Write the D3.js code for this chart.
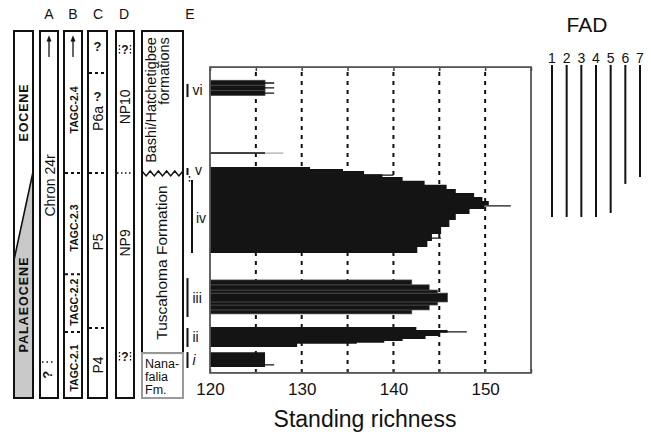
<!DOCTYPE html>
<html lang="en">
<head>
<meta charset="UTF-8">
<title>Standing richness</title>
<script src="https://d3js.org/d3.v7.min.js"></script>
<style>
  body { margin: 0; background: #fff; }
  text { font-family: "Liberation Sans", Arial, Helvetica, sans-serif; fill: #111; }
</style>
</head>
<body>
<svg width="651" height="435"></svg>
<script>
// richness bins per interval: [base m, top m, standing richness]
const binsI = [[10.1, 15.0, 126]];
const binsII = [
  [16.7, 17.7, 129.5], [17.7, 18.1, 136], [18.1, 18.6, 139], [18.6, 19.3, 141],
  [19.3, 20.3, 143.5], [20.3, 21.3, 145], [21.3, 22.2, 145.9], [22.2, 23.2, 142.5]
];
const binsIII = [
  [27.5, 28.8, 142], [28.8, 30.4, 143.9], [30.4, 31.4, 144.8], [31.4, 34.3, 145.9],
  [34.3, 35.3, 144.8], [35.3, 37.0, 143.9], [37.0, 38.6, 142]
];
const binsIV = [
  [47.4, 49.4, 142.6], [49.4, 51.3, 143.7], [51.3, 53.6, 144.2], [53.6, 55.9, 145.2],
  [55.9, 58.2, 146.1], [58.2, 60.2, 146.8], [60.2, 61.8, 148.3], [61.8, 63.1, 149.9],
  [63.1, 64.4, 150.4], [64.4, 65.7, 149.7], [65.7, 67.0, 148.8], [67.0, 68.3, 146.8],
  [68.3, 69.7, 145.8], [69.7, 71.0, 143.4], [71.0, 72.3, 141], [72.3, 73.2, 138.8],
  [73.2, 74.2, 136.8], [74.2, 74.9, 134.5], [74.9, 75.5, 130.9]
];
const binsVI = [[98.9, 100.6, 126], [100.6, 102.3, 126], [102.3, 103.9, 126]];

// single-sample spikes: [level m, richness]
const spikes = [[10.8, 127], [21.6, 148], [52.3, 145.2], [62.8, 152.8], [72.9, 140],
  [73.6, 135.9], [99.7, 127], [101.4, 127], [103.0, 127]];
const isolated = [[80.1, 126, 128]]; // level, solid end, faint end

// intervals in column E
const intervals = [
  {name: "i", lo: 9.8, hi: 15.0}, {name: "ii", lo: 16.7, hi: 22.9},
  {name: "iii", lo: 26.5, hi: 39.2}, {name: "iv", lo: 47.4, hi: 71.3},
  {name: "v", lo: 72.9, hi: 75.2}, {name: "vi", lo: 98.4, hi: 102.7}
];

// FAD ranges: base m (all topping out at 108.9)
const fadNames = ["1", "2", "3", "4", "5", "6", "7"];
const fadBase = [59.2, 59.2, 59.2, 59.2, 60.5, 70.0, 72.3];
const fadTop = 108.9;

const richTicks = [120, 130, 140, 150];
const gridVals = [125, 130, 135, 140, 145, 150];

const svg = d3.select("svg");
const y = d3.scaleLinear().domain([0, 120]).range([398, 31]);
const x = d3.scaleLinear().domain([120, 155]).range([210, 531]);
const plotLo = 8.2, plotHi = 108.2;

// ---------- stratigraphic columns ----------
const cols = svg.append("g");
function box(x0, x1, lo, hi, stroke) {
  cols.append("rect").attr("x", x0).attr("y", y(hi)).attr("width", x1 - x0)
    .attr("height", y(lo) - y(hi)).attr("fill", "none")
    .attr("stroke", stroke || "#111").attr("stroke-width", 2);
}
function vtext(t, cx, m, size, bold, anchor) {
  return cols.append("text").attr("transform", `translate(${cx},${y(m)}) rotate(-90)`)
    .attr("text-anchor", anchor || "middle").attr("dominant-baseline", "central")
    .attr("font-size", size).attr("font-weight", bold ? "bold" : "normal").text(t);
}
function hdash(x0, x1, m, dash, w) {
  cols.append("line").attr("x1", x0).attr("x2", x1).attr("y1", y(m)).attr("y2", y(m))
    .attr("stroke", "#111").attr("stroke-width", w || 2).attr("stroke-dasharray", dash || "4,3");
}
function arrow(cx) {
  cols.append("line").attr("x1", cx).attr("x2", cx).attr("y1", y(111.5)).attr("y2", y(117.6))
    .attr("stroke", "#111").attr("stroke-width", 1.3);
  cols.append("path").attr("d", `M${cx - 2.5},${y(116.6)} L${cx},${y(118.6)} L${cx + 2.5},${y(116.6)} Z`)
    .attr("fill", "#111");
}

// epoch column
cols.append("path")
  .attr("d", `M33,${y(73.9)} L33,${y(0)} L14,${y(0)} L14,${y(45.1)} Z`).attr("fill", "#c9c9c9");
cols.append("line").attr("x1", 33).attr("y1", y(73.9)).attr("x2", 14).attr("y2", y(45.1))
  .attr("stroke", "#111").attr("stroke-width", 1.6);
box(14, 33, 0, 120);
vtext("EOCENE", 24, 93.2, 12.5, true).attr("textLength", 57);
vtext("PALAEOCENE", 24, 30.4, 12.5, true).attr("textLength", 95);

// A
box(40, 58, 0, 120);
arrow(49);
vtext("Chron 24r", 49.5, 69.5, 14, false);
hdash(42, 54, 11.8, "1.5,3", 1.5);
vtext("?", 47, 7.6, 13, true);

// B
box(64, 82, 0, 120);
arrow(73);
hdash(65, 81, 73.6, "3,3");
hdash(65, 81, 40.5, "3,3");
hdash(65, 81, 21.6, "3,3");
vtext("TAGC-2.4", 73.5, 94.2, 10.5, true);
vtext("TAGC-2.3", 73.5, 55.6, 10.5, true);
vtext("TAGC-2.2", 73.5, 31.3, 10.5, true);
vtext("TAGC-2.1", 73.5, 9.8, 10.5, true);

// C
box(88, 107, 0, 120);
hdash(89, 106, 106.3, "3,3");
hdash(89, 106, 73.6, "3,3");
hdash(89, 106, 22.9, "3,3");
[114.8, 98.6].forEach(m => {
  cols.append("text").attr("x", 97.5).attr("y", y(m)).attr("text-anchor", "middle")
    .attr("dominant-baseline", "central").attr("font-size", 13).attr("font-weight", "bold").text("?");
});
vtext("P6a", 98, 91.4, 14, false);
vtext("P5", 98, 51.0, 14, false);
vtext("P4", 98, 10.8, 14, false);

// D
box(116, 134, 0, 120);
hdash(117, 133, 73.6, "1.5,2.5", 1.5);
[113.8, 13.4].forEach(m => {
  cols.append("text").attr("x", 125).attr("y", y(m)).attr("text-anchor", "middle")
    .attr("dominant-baseline", "central").attr("font-size", 12).attr("font-weight", "bold").text("?");
  [119.5, 130.5].forEach(xx => cols.append("line").attr("x1", xx).attr("x2", xx)
    .attr("y1", y(m) - 5).attr("y2", y(m) + 4).attr("stroke", "#111")
    .attr("stroke-width", 1.3).attr("stroke-dasharray", "1.5,2"));
});
vtext("NP10", 125, 95.2, 14, false);
vtext("NP9", 125, 50.7, 14, false);

// E formations
box(142, 183, 14.7, 120);
box(142, 183, 0, 14.7, "#9a9a9a");
const zig = d3.range(0, 11).map(i => [142 + i * 4.1, y(73.6) + (i % 2 ? 3 : -2)]);
cols.append("path").attr("d", d3.line()(zig)).attr("fill", "none")
  .attr("stroke", "#111").attr("stroke-width", 1.5);
vtext("Bashi/Hatchetigbee", 151, 118.0, 14.5, false, "end");
vtext("formations", 164, 118.0, 14.5, false, "end");
vtext("Tuscahoma Formation", 161, 44.3, 15.5, false);
["Nana-", "falia", "Fm."].forEach((t, i) => {
  cols.append("text").attr("x", 145).attr("y", 368 + i * 13).attr("font-size", 12.5).text(t);
});

// column letters
[["A", 49], ["B", 73], ["C", 98], ["D", 124], ["E", 190]].forEach(([t, cx]) => {
  cols.append("text").attr("x", cx).attr("y", 19).attr("text-anchor", "middle")
    .attr("font-size", 14).text(t);
});

// interval markers
intervals.forEach(d => {
  const bx = d.name === "iv" ? 192 : 187.5;
  cols.append("line").attr("x1", bx).attr("x2", bx).attr("y1", y(d.hi)).attr("y2", y(d.lo))
    .attr("stroke", "#111").attr("stroke-width", 2);
  const tx = d.name === "iv" ? 196 : (d.name === "v" ? 195 : 192.5);
  const ty = d.name === "iv" ? y(58.8) : (d.name === "v" ? y(74.6) : (y(d.hi) + y(d.lo)) / 2);
  cols.append("text").attr("x", tx).attr("y", ty).attr("dominant-baseline", "central")
    .attr("font-size", 14).attr("font-style", d.name === "i" ? "italic" : "normal").text(d.name);
});
[72.3, 71.0].forEach(m => cols.append("circle").attr("cx", 189.5).attr("cy", y(m)).attr("r", 0.9).attr("fill", "#111"));

// ---------- richness plot ----------
const plot = svg.append("g");
plot.selectAll(".grid").data(gridVals).join("line")
  .attr("x1", d => x(d)).attr("x2", d => x(d))
  .attr("y1", y(plotLo)).attr("y2", y(plotHi))
  .attr("stroke", "#111").attr("stroke-width", 2).attr("stroke-dasharray", "4,5");

// solid stepped outline for a run of bins
function profile(data) {
  const pts = [[x(120), y(data[0][0])]];
  data.forEach(d => { pts.push([x(d[2]), y(d[0])], [x(d[2]), y(d[1])]); });
  pts.push([x(120), y(data[data.length - 1][1])]);
  plot.append("path").attr("d", d3.line()(pts) + "Z").attr("fill", "#141414");
}
// separate bars with faint seams
function bars(data) {
  plot.append("g").selectAll("rect").data(data).join("rect")
    .attr("x", x(120)).attr("width", d => x(d[2]) - x(120))
    .attr("y", d => y(d[1])).attr("height", d => y(d[0]) - y(d[1]))
    .attr("fill", "#141414").attr("stroke", "#4a4a4a").attr("stroke-width", 0.7);
}
profile(binsI);
profile(binsII);
bars(binsIII);
profile(binsIV);
bars(binsVI);

plot.selectAll(".spike").data(spikes).join("line")
  .attr("x1", x(120)).attr("x2", d => x(d[1]))
  .attr("y1", d => y(d[0])).attr("y2", d => y(d[0]))
  .attr("stroke", "#141414").attr("stroke-width", 1.3);
isolated.forEach(d => {
  plot.append("line").attr("x1", x(120)).attr("x2", x(d[2])).attr("y1", y(d[0])).attr("y2", y(d[0]))
    .attr("stroke", "#aaa").attr("stroke-width", 1.2);
  plot.append("line").attr("x1", x(120)).attr("x2", x(d[1])).attr("y1", y(d[0])).attr("y2", y(d[0]))
    .attr("stroke", "#141414").attr("stroke-width", 1.5);
});

// axes
const xb = svg.append("g").attr("transform", `translate(0,${y(plotLo)})`)
  .call(d3.axisBottom(x).tickValues(d3.range(120, 156, 5)).tickSize(-4).tickPadding(10)
    .tickFormat(d => richTicks.includes(d) ? d : ""));
xb.select(".domain").remove();
xb.selectAll("text").attr("font-size", 17).attr("fill", "#111")
  .style("font-family", "'Liberation Sans', Arial, sans-serif");
xb.selectAll("line").attr("stroke", "#444").attr("stroke-width", 1.5);
const xt = svg.append("g").attr("transform", `translate(0,${y(plotHi)})`)
  .call(d3.axisTop(x).tickValues(d3.range(120, 156, 5)).tickSize(-4).tickFormat(""));
xt.select(".domain").remove();
xt.selectAll("line").attr("stroke", "#444").attr("stroke-width", 1.5);

svg.append("rect").attr("x", x(120)).attr("y", y(plotHi))
  .attr("width", x(155) - x(120)).attr("height", y(plotLo) - y(plotHi))
  .attr("fill", "none").attr("stroke", "#555").attr("stroke-width", 1.8);

svg.append("text").attr("x", 365).attr("y", 427).attr("text-anchor", "middle")
  .attr("font-size", 23).text("Standing richness");

// ---------- FAD ----------
const fx = d3.scalePoint().domain(fadNames).range([552, 640]);
svg.append("text").attr("x", 587).attr("y", 32).attr("text-anchor", "middle")
  .attr("font-size", 21).text("FAD");
svg.selectAll(".fadnum").data(fadNames).join("text")
  .attr("x", d => fx(d)).attr("y", 63).attr("text-anchor", "middle")
  .attr("font-size", 14).text(d => d);
svg.selectAll(".fad").data(fadNames).join("line")
  .attr("x1", d => fx(d)).attr("x2", d => fx(d))
  .attr("y1", y(fadTop)).attr("y2", (d, i) => y(fadBase[i]))
  .attr("stroke", "#111").attr("stroke-width", 2);
</script>
</body>
</html>
